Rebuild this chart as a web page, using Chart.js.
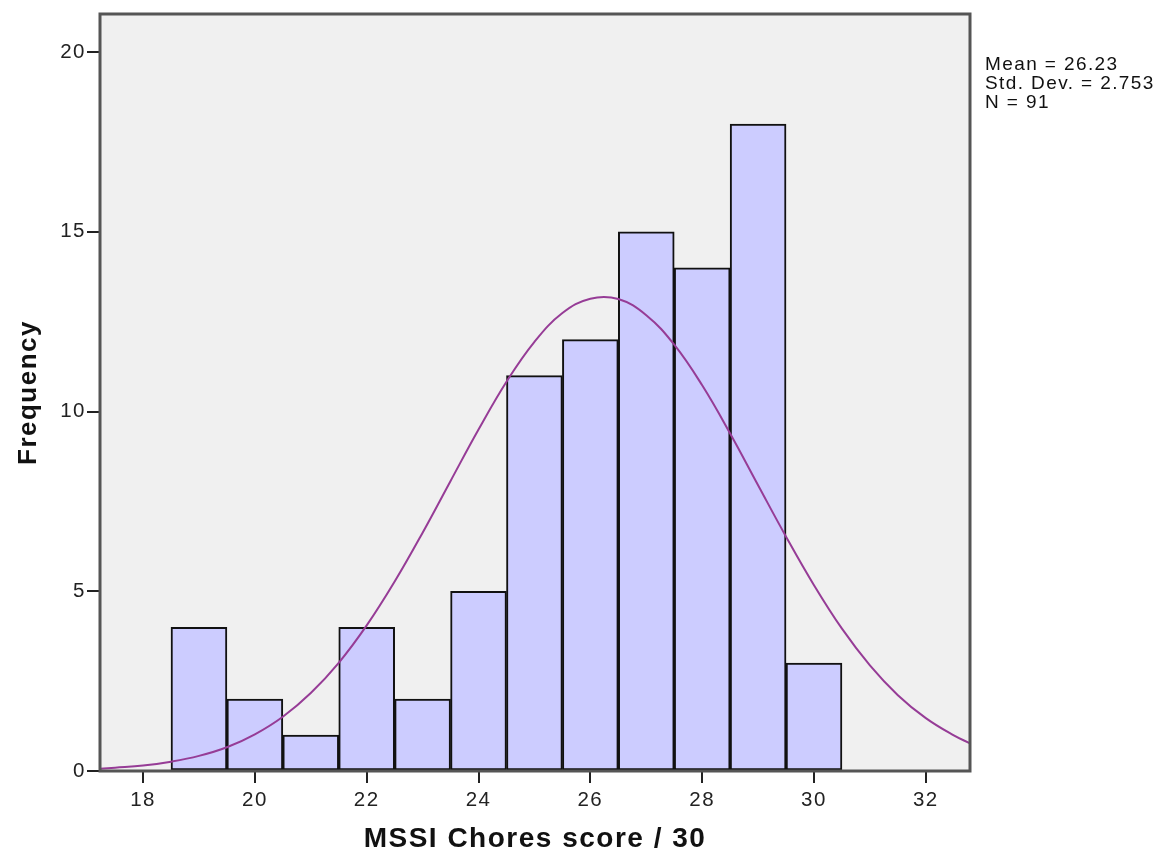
<!DOCTYPE html>
<html lang="en">
<head>
    <meta charset="UTF-8">
    <title>MSSI Chores score histogram</title>
    <script src="https://cdn.jsdelivr.net/npm/chart.js"></script>
    <style>
        html, body { margin: 0; padding: 0; background: #fff; }
        #wrap { position: relative; width: 1162px; height: 850px; }
        #stats {
            position: absolute; left: 985px; top: 54px;
            font-family: "Liberation Sans", Arial, sans-serif;
            font-size: 19px; line-height: 19px; letter-spacing: 1.4px; color: #111;
        }
    </style>
</head>
<body>
    <div id="wrap">
        <canvas id="histChart" width="1162" height="850"></canvas>
        <div id="stats">Mean = 26.23<br>Std. Dev. = 2.753<br>N = 91</div>
    </div>

    <script>
    // histogram bins (bin centres) and counts
    const binCenters = [19, 20, 21, 22, 23, 24, 25, 26, 27, 28, 29, 30];
    const counts     = [4, 2, 1, 4, 2, 5, 11, 12, 15, 14, 18, 3];

    // normal curve
    const curveX = [17.23, 17.5, 18, 18.5, 19, 19.5, 20, 20.5, 21, 21.5, 22, 22.5, 23, 23.5,
                    24, 24.5, 25, 25.5, 26, 26.5, 27, 27.5, 28, 28.5, 29, 29.5, 30, 30.5,
                    31, 31.5, 32, 32.5, 32.79];
    const curveY = [0.06, 0.09, 0.15, 0.26, 0.42, 0.66, 1.02, 1.51, 2.17, 3.01, 4.05, 5.27, 6.63, 8.07,
                    9.50, 10.83, 11.94, 12.74, 13.14, 13.13, 12.68, 11.86, 10.73, 9.39, 7.95, 6.52, 5.17, 3.96,
                    2.94, 2.11, 1.47, 0.99, 0.77];

    const xTicks = [18, 20, 22, 24, 26, 28, 30, 32];
    const yTicks = [0, 5, 10, 15, 20];

    const font = "'Liberation Sans', Arial, sans-serif";

    // plot background + frame (the picture is a bit wide, so text gets some letter spacing)
    const frame = {
        id: 'frame',
        beforeDraw(chart) {
            const a = chart.chartArea, c = chart.ctx;
            c.letterSpacing = '1.5px';
            c.save();
            c.fillStyle = '#f0f0f0';
            c.fillRect(a.left, a.top, a.right - a.left, a.bottom - a.top);
            c.restore();
        },
        afterDraw(chart) {
            const a = chart.chartArea, c = chart.ctx;
            c.save();
            c.strokeStyle = '#555';
            c.lineWidth = 3;
            c.strokeRect(a.left, a.top, a.right - a.left, a.bottom - a.top);
            c.restore();
        }
    };

    new Chart(document.getElementById('histChart'), {
        type: 'bar',
        data: {
            datasets: [{
                type: 'line',
                data: curveX.map((x, i) => ({ x: x, y: curveY[i] })),
                borderColor: '#963c96',
                borderWidth: 2,
                pointRadius: 0,
                tension: 0.4,
                fill: false,
                order: 0
            }, {
                type: 'bar',
                data: binCenters.map((x, i) => ({ x: x, y: counts[i] })),
                backgroundColor: '#ccccff',
                borderColor: '#111',
                borderWidth: 2,
                borderSkipped: false,
                barPercentage: 1,
                categoryPercentage: 1,
                order: 1
            }]
        },
        options: {
            responsive: false,
            animation: false,
            layout: { padding: { left: 0, right: 192, top: 14, bottom: 0 } },
            plugins: { legend: { display: false }, tooltip: { enabled: false } },
            scales: {
                x: {
                    type: 'linear',
                    offset: false,
                    min: 17.23, max: 32.79,
                    afterFit: s => { s.height = 79; },
                    afterBuildTicks: s => { s.ticks = xTicks.map(v => ({ value: v })); },
                    grid: { offset: false, drawOnChartArea: false, drawTicks: true, tickLength: 12, color: '#222', lineWidth: 2 },
                    border: { display: false },
                    ticks: { font: { family: font, size: 20.5 }, color: '#222', padding: 5, maxRotation: 0 },
                    title: {
                        display: true, text: 'MSSI Chores score / 30',
                        font: { family: font, size: 28, weight: 'bold', lineHeight: 1 },
                        color: '#111', padding: { top: 0, bottom: -3 }
                    }
                },
                y: {
                    min: 0, max: 21.06,
                    afterFit: s => { s.width = 100; },
                    afterBuildTicks: s => { s.ticks = yTicks.map(v => ({ value: v })); },
                    grid: { drawOnChartArea: false, drawTicks: true, tickLength: 13, color: '#222', lineWidth: 2 },
                    border: { display: false },
                    ticks: { font: { family: font, size: 20.5 }, color: '#222', padding: 1 },
                    title: {
                        display: true, text: 'Frequency',
                        font: { family: font, size: 26, weight: 'bold', lineHeight: 1 },
                        color: '#111', padding: { top: 16, bottom: 0 }
                    }
                }
            }
        },
        plugins: [frame]
    });
    </script>
</body>
</html>
